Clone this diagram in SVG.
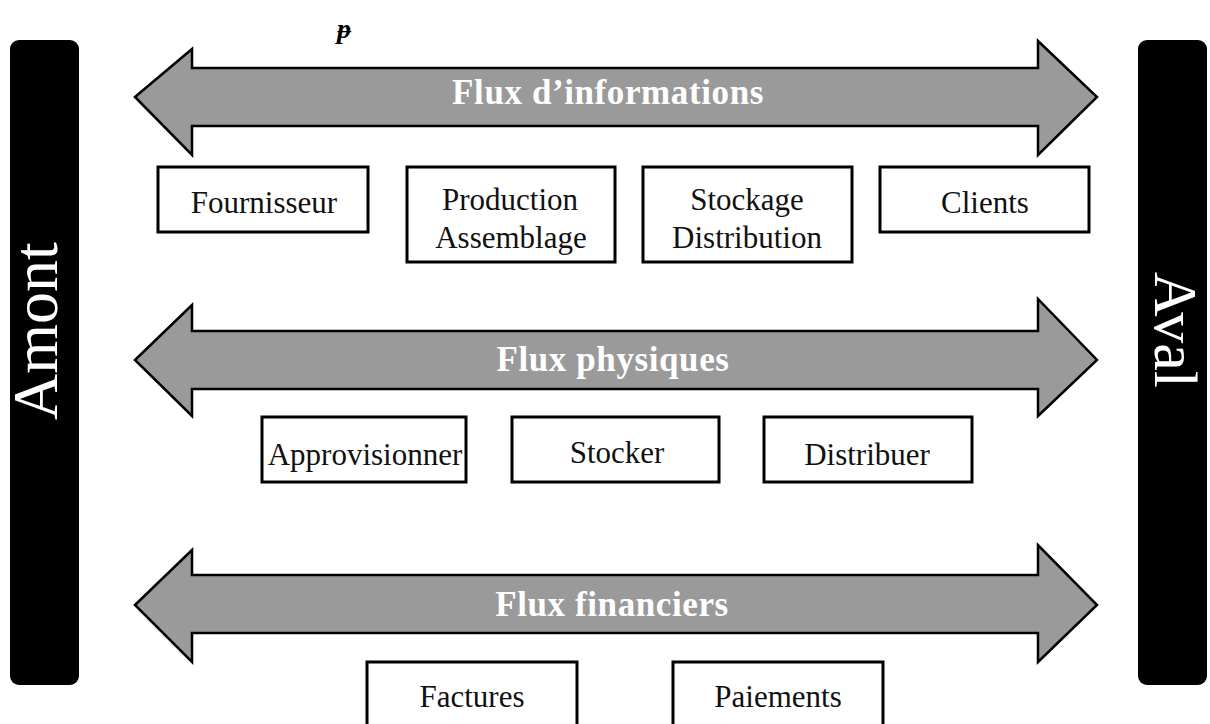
<svg xmlns="http://www.w3.org/2000/svg" width="1210" height="724" viewBox="0 0 1210 724">
  <style>
    .bar { fill: #000; }
    .side { font-family: "Liberation Serif", "Times New Roman", serif; font-size: 64px; fill: #fff; text-anchor: middle; }
    .flow { fill: #9a9a9a; stroke: #000; stroke-width: 2.5; stroke-linejoin: miter; }
    .flowlbl { font-family: "Liberation Serif", "Times New Roman", serif; font-size: 35px; font-weight: bold; letter-spacing: 0.6px; fill: #fff; text-anchor: middle; }
    .box { fill: #fff; stroke: #000; stroke-width: 3; }
    .lbl { font-family: "Liberation Serif", "Times New Roman", serif; font-size: 31px; fill: #111; text-anchor: middle; }
  </style>

  <rect width="1210" height="724" fill="#fff"/>

  <text x="337" y="38" font-family="Liberation Serif, serif" font-size="28" font-weight="bold" font-style="italic" fill="#000">ᵽ</text>

  <!-- side bars -->
  <g id="amont">
    <rect class="bar" x="10" y="40" width="69" height="645" rx="9"/>
    <text class="side" transform="translate(57,331) rotate(-90)">Amont</text>
  </g>
  <g id="aval">
    <rect class="bar" x="1138" y="40" width="69" height="645" rx="9"/>
    <text class="side" style="font-size:62px" transform="translate(1155,330) rotate(90)">Aval</text>
  </g>

  <!-- two-way flow arrows -->
  <g id="connectors">
    <g id="flux-informations">
      <polygon class="flow" points="135,97 192,49 192,68 1038,68 1038,41 1097,97 1038,155 1038,126 192,126 192,155"/>
      <text class="flowlbl" x="608" y="104">Flux d’informations</text>
    </g>
    <g id="flux-physiques">
      <polygon class="flow" points="135,360 192,305 192,331 1038,331 1038,299 1097,360 1038,416 1038,389 192,389 192,416"/>
      <text class="flowlbl" x="613" y="371">Flux physiques</text>
    </g>
    <g id="flux-financiers">
      <polygon class="flow" points="135,605 192,550 192,575 1038,575 1038,545 1097,605 1038,662 1038,633 192,633 192,662"/>
      <text class="flowlbl" x="612" y="616">Flux financiers</text>
    </g>
  </g>

  <!-- information flow actors -->
  <g id="fournisseur">
    <rect class="box" x="158" y="167" width="210" height="65"/>
    <text class="lbl" x="264" y="213">Fournisseur</text>
  </g>
  <g id="production">
    <rect class="box" x="407" y="167" width="208" height="95"/>
    <text class="lbl" x="510" y="210">Production</text>
    <text class="lbl" x="511" y="248">Assemblage</text>
  </g>
  <g id="stockage">
    <rect class="box" x="643" y="167" width="209" height="95"/>
    <text class="lbl" x="747" y="210">Stockage</text>
    <text class="lbl" x="747" y="248">Distribution</text>
  </g>
  <g id="clients">
    <rect class="box" x="880" y="167" width="209" height="65"/>
    <text class="lbl" x="985" y="213">Clients</text>
  </g>

  <!-- physical flow steps -->
  <g id="approvisionner">
    <rect class="box" x="262" y="417" width="204" height="65"/>
    <text class="lbl" x="365" y="465">Approvisionner</text>
  </g>
  <g id="stocker">
    <rect class="box" x="512" y="417" width="207" height="65"/>
    <text class="lbl" x="617" y="463">Stocker</text>
  </g>
  <g id="distribuer">
    <rect class="box" x="764" y="417" width="208" height="65"/>
    <text class="lbl" x="867" y="465">Distribuer</text>
  </g>

  <!-- financial flow documents -->
  <g id="factures">
    <rect class="box" x="367" y="662" width="210" height="80"/>
    <text class="lbl" x="472" y="707">Factures</text>
  </g>
  <g id="paiements">
    <rect class="box" x="673" y="662" width="210" height="80"/>
    <text class="lbl" x="778" y="707">Paiements</text>
  </g>
</svg>
